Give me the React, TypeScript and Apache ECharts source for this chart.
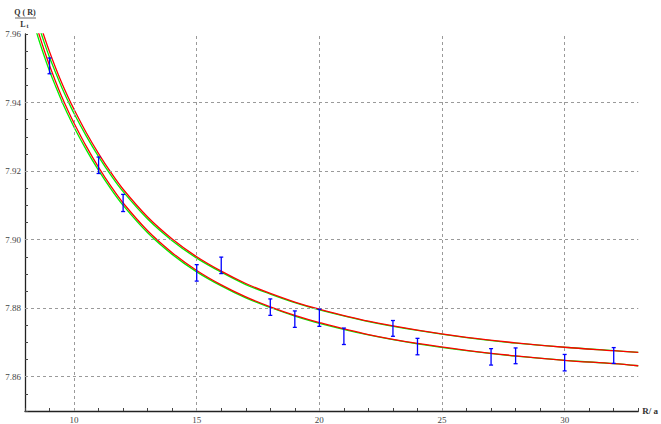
import React, { useEffect, useRef } from 'react';
import * as echarts from 'echarts';

// Fitted curves (R/a, Q(R)/L_t)
const curveX = [8.4, 8.6, 8.8, 9, 9.25, 9.5, 9.75, 10, 10.5, 11, 11.5, 12, 13, 14, 15, 16, 17, 18, 19, 20, 22, 24, 26, 28, 30, 32, 33];
const lowerRed = [7.9641, 7.9593, 7.9549, 7.9508, 7.9461, 7.9417, 7.9377, 7.9340, 7.9272, 7.9211, 7.9156, 7.9107, 7.9026, 7.8962, 7.8910, 7.8868, 7.8833, 7.8804, 7.8779, 7.8758, 7.8723, 7.8697, 7.8677, 7.8661, 7.8648, 7.8638, 7.8632];
const lowerGreen = [7.9622, 7.9575, 7.9532, 7.9492, 7.9447, 7.9404, 7.9365, 7.9328, 7.9262, 7.9202, 7.9148, 7.9100, 7.9020, 7.8957, 7.8906, 7.8865, 7.8830, 7.8802, 7.8777, 7.8756, 7.8722, 7.8696, 7.8676, 7.8660, 7.8648, 7.8638, 7.8632];
const upperRed = [7.9681, 7.9633, 7.9589, 7.9548, 7.9501, 7.9457, 7.9417, 7.9380, 7.9312, 7.9251, 7.9196, 7.9147, 7.9066, 7.9002, 7.8950, 7.8908, 7.8872, 7.8843, 7.8818, 7.8797, 7.8762, 7.8736, 7.8715, 7.8699, 7.8686, 7.8676, 7.8671];
const upperGreen = [7.9662, 7.9615, 7.9572, 7.9532, 7.9487, 7.9444, 7.9405, 7.9368, 7.9302, 7.9242, 7.9188, 7.9140, 7.9060, 7.8997, 7.8946, 7.8905, 7.8869, 7.8841, 7.8816, 7.8795, 7.8761, 7.8735, 7.8714, 7.8698, 7.8686, 7.8676, 7.8671];

// Data points with error bars
const errX = [9, 11, 12, 15, 16, 18, 19, 20, 21, 23, 24, 27, 28, 30, 32];
const errY = [7.9507, 7.9217, 7.9107, 7.8903, 7.8925, 7.8803, 7.8768, 7.8772, 7.8718, 7.8741, 7.8688, 7.8658, 7.8661, 7.8641, 7.8662];
const errH = [0.0023, 0.0024, 0.0025, 0.0024, 0.0024, 0.0024, 0.0024, 0.0025, 0.0024, 0.0023, 0.0024, 0.0024, 0.0023, 0.0024, 0.0023];

// Tick labels / grid lines
const xTickLabels = [10, 15, 20, 25, 30];
const yTickLabels = ['7.86', '7.88', '7.90', '7.92', '7.94', '7.96'];
const gridX = [10, 15, 20, 25, 30];
const gridY = [7.86, 7.88, 7.9, 7.92, 7.94];

const FONT = '"Liberation Serif", "DejaVu Serif", serif';

export default function App() {
  const ref = useRef<HTMLDivElement>(null);
  useEffect(() => {
    document.body.style.margin = '0';
    const chart = echarts.init(ref.current as HTMLDivElement, null, { renderer: 'svg' });
    const lineSeries = (ys: number[], color: string, z: number) => ({
      type: 'line',
      data: curveX.map((x, i) => [x, ys[i]]),
      showSymbol: false,
      symbol: 'none',
      smooth: 0.35,
      clip: true,
      silent: true,
      z,
      lineStyle: { color, width: 1.3 },
    });
    const option: any = {
      animation: false,
      backgroundColor: '#ffffff',
      grid: { left: 25, right: 21, top: 34, bottom: 11, containLabel: false },
      xAxis: {
        type: 'value',
        min: 8,
        max: 33,
        interval: 1,
        name: 'R/ a',
        nameLocation: 'end',
        nameGap: 4,
        nameTextStyle: { fontFamily: FONT, fontSize: 9, color: '#333', fontWeight: 'bold', verticalAlign: 'middle' },
        axisLine: { show: true, lineStyle: { color: '#222', width: 1.3 } },
        axisTick: { show: true, inside: true, length: 3, lineStyle: { color: '#444' } },
        axisLabel: {
          margin: 4,
          fontFamily: FONT,
          fontSize: 9,
          color: '#444',
          formatter: (v: number) => {
            const r = Math.round(v);
            return Math.abs(v - r) < 1e-6 && xTickLabels.includes(r) ? String(r) : '';
          },
        },
        splitLine: { show: false },
      },
      yAxis: {
        type: 'value',
        min: 7.85,
        max: 7.96,
        interval: 0.01,
        axisLine: { show: true, lineStyle: { color: '#222', width: 1.3 } },
        axisTick: { show: true, inside: true, length: 3, lineStyle: { color: '#444' } },
        minorTick: { show: true, splitNumber: 2, length: 3, lineStyle: { color: '#444' } },
        axisLabel: {
          margin: 4,
          fontFamily: FONT,
          fontSize: 9,
          color: '#444',
          formatter: (v: number) => {
            const s = v.toFixed(2);
            return yTickLabels.includes(s) ? s : '';
          },
        },
        splitLine: { show: false },
      },
      graphic: [
        { type: 'text', x: 25, y: 12, style: { text: 'Q ( R)', font: `bold 8px ${FONT}`, fill: '#333', align: 'center', verticalAlign: 'middle' } },
        { type: 'line', shape: { x1: 15, y1: 18, x2: 36, y2: 18 }, style: { stroke: '#444', lineWidth: 0.8 } },
        { type: 'text', x: 23, y: 24, style: { text: 'L', font: `bold 8px ${FONT}`, fill: '#333', align: 'center', verticalAlign: 'middle' } },
        { type: 'text', x: 27.5, y: 26, style: { text: 't', font: `bold 6px ${FONT}`, fill: '#333', align: 'center', verticalAlign: 'middle' } },
      ],
      series: [
        {
          type: 'line',
          data: [],
          silent: true,
          z: 1,
          markLine: {
            silent: true,
            symbol: ['none', 'none'],
            label: { show: false },
            animation: false,
            lineStyle: { color: '#9a9a9a', type: [3, 3], width: 1 },
            emphasis: { disabled: true },
            data: [
              ...gridX.map((v) => ({ xAxis: v })),
              ...gridY.map((v) => ({ yAxis: v })),
            ],
          },
        },
        lineSeries(lowerGreen, '#00ee00', 2),
        lineSeries(upperGreen, '#00ee00', 2),
        lineSeries(lowerRed, '#ff0000', 3),
        lineSeries(upperRed, '#ff0000', 3),
        {
          type: 'custom',
          silent: true,
          z: 5,
          data: errX.map((x, i) => [x, errY[i] - errH[i], errY[i] + errH[i]]),
          encode: { x: 0, y: [1, 2] },
          renderItem: (params: any, api: any) => {
            const x = api.value(0);
            const lo = api.coord([x, api.value(1)]);
            const hi = api.coord([x, api.value(2)]);
            const cap = 2;
            const st = { stroke: '#0000ff', lineWidth: 1.3 };
            return {
              type: 'group',
              children: [
                { type: 'line', shape: { x1: hi[0], y1: hi[1], x2: lo[0], y2: lo[1] }, style: st },
                { type: 'line', shape: { x1: hi[0] - cap, y1: hi[1], x2: hi[0] + cap, y2: hi[1] }, style: st },
                { type: 'line', shape: { x1: lo[0] - cap, y1: lo[1], x2: lo[0] + cap, y2: lo[1] }, style: st },
              ],
            };
          },
        },
      ],
    };
    chart.setOption(option);
    return () => chart.dispose();
  }, []);
  return <div ref={ref} style={{ position: 'fixed', left: 0, top: 0, width: 661, height: 424, background: '#fff' }} />;
}
